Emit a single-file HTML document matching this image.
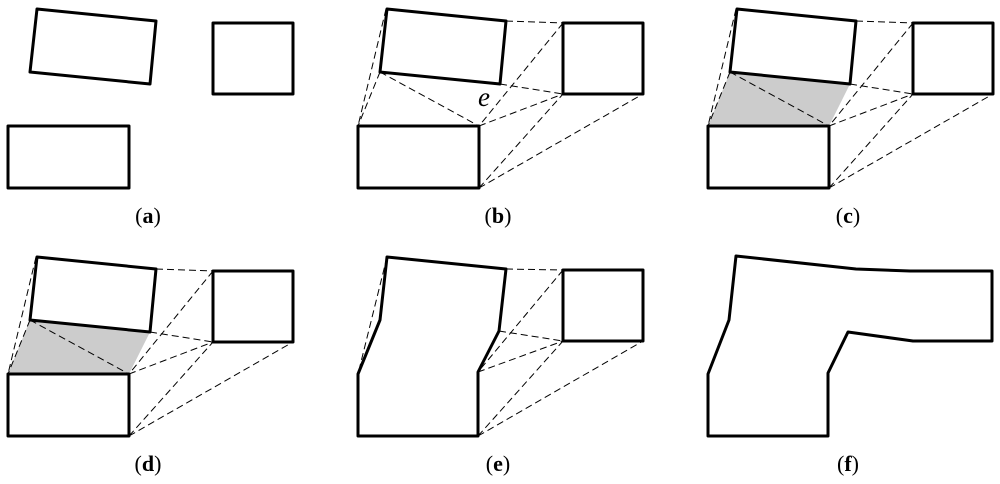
<!DOCTYPE html><html><head><style>body{margin:0;background:#fff}svg{display:block}text{font-family:"Liberation Serif",serif;font-size:22px}</style></head><body>
<svg width="1000" height="484" viewBox="0 0 1000 484" xmlns="http://www.w3.org/2000/svg">
<defs>
<g id="dash" fill="none" stroke="#000" stroke-width="1" stroke-dasharray="7,4">
<line x1="36" y1="9" x2="8" y2="126"/><line x1="30" y1="72" x2="8" y2="126"/>
<line x1="30" y1="72" x2="129" y2="126"/><line x1="156" y1="21" x2="213" y2="23"/>
<line x1="213" y1="23" x2="129" y2="126"/><line x1="150" y1="84" x2="213" y2="94"/>
<line x1="129" y1="126" x2="213" y2="94"/><line x1="129" y1="188" x2="213" y2="94"/>
<line x1="129" y1="188" x2="293" y2="94"/>
</g>
<g id="shapes" fill="none" stroke="#000" stroke-width="3" stroke-linejoin="round">
<polygon points="37,9 156,21 150,84 30,72" fill="#fff"/>
<rect x="213" y="23" width="80" height="71"/>
<rect x="8" y="126" width="121" height="62"/>
</g>
</defs>
<use href="#shapes"/>
<g transform="translate(350,0)"><use href="#dash"/><use href="#shapes"/></g>
<text x="478" y="106" style="font-style:italic;font-size:27px">e</text>
<g transform="translate(700,0)"><polygon points="30,72 150,84 129,126 8,126" fill="#ccc"/><use href="#dash"/><use href="#shapes"/></g>
<g transform="translate(0,248)"><polygon points="30,72 150,84 129,126 8,126" fill="#ccc"/><use href="#dash"/><use href="#shapes"/></g>
<g fill="none" stroke="#000" stroke-width="1" stroke-dasharray="7,4">
<line x1="387" y1="257" x2="358" y2="374"/><line x1="506" y1="269" x2="563" y2="270"/>
<line x1="563" y1="270" x2="478" y2="372"/><line x1="499" y1="331" x2="563" y2="341"/>
<line x1="478" y1="372" x2="563" y2="341"/><line x1="478" y1="436" x2="563" y2="341"/>
<line x1="478" y1="436" x2="643" y2="341"/>
</g>
<g fill="none" stroke="#000" stroke-width="3" stroke-linejoin="round">
<polygon points="387,257 506,269 499,331 478,372 478,436 358,436 358,374 380,320"/>
<rect x="563" y="270" width="80" height="71"/>
<polygon points="736,256 856,269 910,271 992,271 992,341 913,341 848,332 828,373 828,436 708,436 708,374 729,320"/>
</g>
<g text-anchor="middle">
<text x="148" y="223">(<tspan font-weight="bold">a</tspan>)</text>
<text x="498" y="223">(<tspan font-weight="bold">b</tspan>)</text>
<text x="848" y="223">(<tspan font-weight="bold">c</tspan>)</text>
<text x="148" y="471">(<tspan font-weight="bold">d</tspan>)</text>
<text x="498" y="471">(<tspan font-weight="bold">e</tspan>)</text>
<text x="848" y="471">(<tspan font-weight="bold">f</tspan>)</text>
</g>
</svg>
</body></html>
